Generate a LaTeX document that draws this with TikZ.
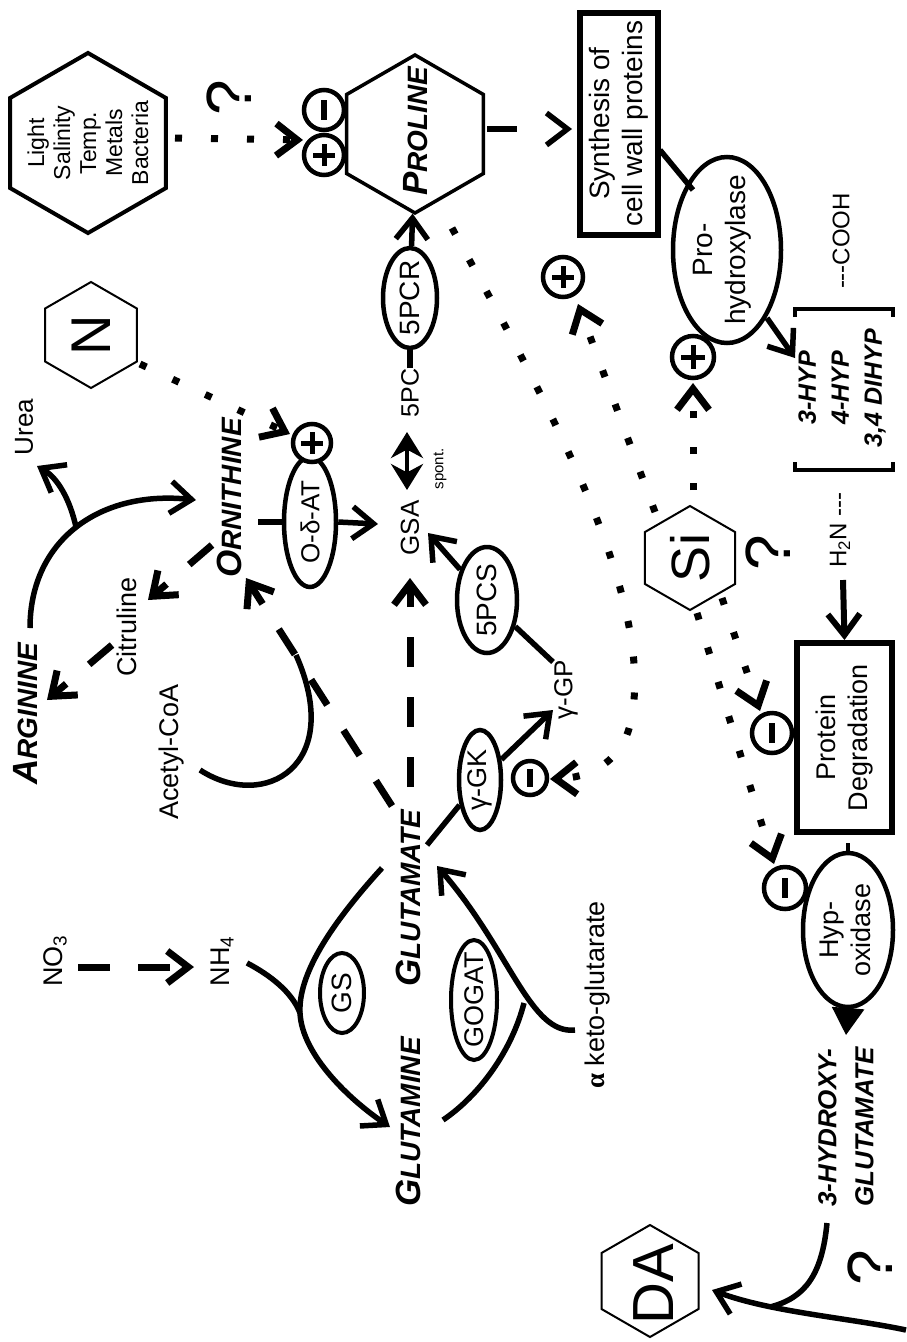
\documentclass[tikz,border=0pt]{standalone}
\usepackage{fontspec}
\setmainfont{Liberation Sans}
\newfontfamily\serifbf{Liberation Serif}
\usetikzlibrary{arrows.meta,shapes.geometric}
\newcommand\bigini[1]{{\fontsize{35}{35}\selectfont #1}}
\newcommand\fsz[1]{\fontsize{#1}{#1}\selectfont}
\newcommand\plusat[2]{\draw[line width=5pt] (#1) ++(-#2,0) -- ++(2*#2,0) (#1) ++(0,-#2) -- ++(0,2*#2);}
\newcommand\minusat[2]{\draw[line width=6pt] (#1) ++(0,-#2) -- ++(0,2*#2);}
\begin{document}
\begin{tikzpicture}[x=1pt,y=-1pt,
  lbl/.style={rotate=90,inner sep=0pt,align=center,font=\fontsize{27}{31}\selectfont},
  bil/.style={rotate=90,inner sep=0pt,align=center,font=\bfseries\itshape\fontsize{28}{32}\selectfont},
  enz/.style={draw,ellipse,rotate=90,inner sep=0pt,line width=4.5pt},
  hexa/.style={draw,regular polygon,regular polygon sides=6,rotate=90,inner sep=0pt},
  sgn/.style={draw,circle,fill=white,inner sep=0pt,line width=4.5pt},
  rbox/.style={draw,rectangle,rotate=90,inner sep=0pt,line width=6pt,align=center,font=\fontsize{28}{33}\selectfont},
  rxn/.style={line width=5.5pt},
  arw/.style={-{Straight Barb[length=21pt,width=32pt]}},
  dsh/.style={line width=7pt,dash pattern=on 30pt off 30pt},
  dtt/.style={line width=7pt,dash pattern=on 7pt off 29pt},
  qm/.style={rotate=90,inner sep=0pt,font=\fontsize{64}{64}\selectfont}
]
\fill[white] (0,0) rectangle (906,1342);
\useasboundingbox (0,0) rectangle (906,1342);

% ---------- hexagons ----------
\node[hexa,line width=4pt,minimum size=180pt] (envHex) at (88,143) {};
\node[lbl,font=\fontsize{23}{26}\selectfont] (envTxt) at (envHex.center) {Light\\Salinity\\Temp.\\Metals\\Bacteria};
\node[hexa,line width=2pt,minimum size=106pt] (nHex) at (91,335) {};
\node[lbl,font=\fsz{56}] (nTxt) at (nHex.center) {N};
\node[hexa,line width=3.5pt,minimum size=158pt] (proHex) at (415,134) {};
\node[bil] (proTxt) at (416,131) {\bigini{P}ROLINE};
\node[hexa,line width=2pt,minimum size=104pt] (siHex) at (690,558) {};
\node[lbl,font=\fsz{54}] (siTxt) at (siHex.center) {Si};
\node[hexa,line width=2pt,minimum size=112pt] (daHex) at (650,1281) {};
\node[lbl,font=\fsz{58}] (daTxt) at (654,1284) {DA};

% ---------- question marks ----------
\node[qm] (q1) at (229,98) {?};
\node[qm] (q2) at (768,553) {?};
\node[qm] (q3) at (870,1268) {?};

% ---------- labels ----------
\node[lbl,font=\fsz{26}] (urea) at (24,427) {Urea};
\node[bil] (argT) at (26,714) {\bigini{A}RGININE};
\node[lbl] (citT) at (127,627) {Citruline};
\node[lbl] (acetT) at (172,752) {Acetyl-CoA};
\node[bil] (ornT) at (229,498) {\bigini{O}RNITHINE};
\node[lbl] (no3T) at (55,961) {NO\textsubscript{3}};
\node[lbl] (nh4T) at (222,961) {NH\textsubscript{4}};
\node[bil] (gluT) at (408,898) {\bigini{G}LUTAMATE};
\node[bil] (glnT) at (408,1122) {\bigini{G}LUTAMINE};
\node[lbl] (akgT) at (598,995) {{\serifbf\bfseries α} keto-glutarate};
\node[lbl,font=\fsz{26}] (gsaT) at (410,528) {GSA};
\node[lbl,font=\fsz{15}] (spontT) at (440,469) {spont.};
\node[lbl,font=\fsz{25}] (pcT) at (410,393) {5PC};
\node[lbl,font=\fsz{26}] (gpT) at (566,690) {γ-GP};

% ---------- enzymes ----------
\node[enz,minimum width=130pt,minimum height=52pt] (oda) at (310,522) {};
\node[lbl,font=\fsz{26}] (odaT) at (oda.center) {O-δ-AT};
\node[enz,minimum width=100pt,minimum height=42pt] (gk) at (480,780) {};
\node[lbl,font=\fsz{27}] (gkT) at (gk.center) {γ-GK};
\node[enz,minimum width=106pt,minimum height=60pt] (pcs) at (487,600) {};
\node[lbl,font=\fsz{28}] (pcsT) at (pcs.center) {5PCS};
\node[enz,minimum width=100pt,minimum height=54pt] (pcr) at (410,298) {};
\node[lbl,font=\fsz{28}] (pcrT) at (pcr.center) {5PCR};
\node[enz,line width=4pt,minimum width=80pt,minimum height=44pt] (gs) at (342,993) {};
\node[lbl,font=\fsz{28}] (gsT) at (gs.center) {GS};
\node[enz,line width=4pt,minimum width=120pt,minimum height=46pt] (gogat) at (474,1000) {};
\node[lbl,font=\fsz{27}] (gogatT) at (gogat.center) {GOGAT};
\node[enz,minimum width=186pt,minimum height=108pt] (prohyd) at (727,250) {};
\node[lbl,font=\fontsize{28}{33}\selectfont] (prohydT) at (722,250) {Pro-\\hydroxylase};
\node[enz,minimum width=154pt,minimum height=90pt] (hypox) at (848,930) {};
\node[lbl,font=\fontsize{27}{32}\selectfont] (hypoxT) at (845,930) {Hyp-\\oxidase};

% ---------- boxes ----------
\node[rbox,minimum width=222pt,minimum height=78pt] (synBox) at (618.5,123.5) {Synthesis of\\cell wall proteins};
\node[rbox,minimum width=189pt,minimum height=95pt,font=\fontsize{27}{32}\selectfont] (pdBox) at (844.5,737.5) {Protein\\Degradation};

% ---------- peptide ----------
\node[bil,font=\bfseries\itshape\fontsize{25}{33}\selectfont] (chemT) at (842,388) {3-HYP\\4-HYP\\3,4 DIHYP};
\node[lbl,font=\fsz{24}] (h2nT) at (840,530) {H\textsubscript{2}N -{}-{}-};
\node[lbl,font=\fsz{24}] (coohT) at (841,241) {-{}-{}-COOH};
\draw[line width=4pt] (795,462) -- (795,470) -- (893,470) -- (893,462);
\draw[line width=4pt] (795,317) -- (795,309) -- (893,309) -- (893,317);
\node[bil,font=\bfseries\itshape\fontsize{26}{37}\selectfont,align=left,anchor=west] (hgT) at (846,1207) {3-HYDROXY-\\GLUTAMATE};

% ---------- +/- modifiers ----------
\node[sgn,minimum size=40pt] (pEnvM) at (324,110) {}; \minusat{pEnvM}{10}
\node[sgn,minimum size=40pt] (pEnvP) at (324,155) {}; \plusat{pEnvP}{11}
\node[sgn,minimum size=38pt] (pOrn) at (312,443) {}; \plusat{pOrn}{11}
\node[sgn,minimum size=40pt] (pSyn) at (563,277) {}; \plusat{pSyn}{11}
\node[sgn,minimum size=42pt] (pHyd) at (693,357) {}; \plusat{pHyd}{12}
\node[sgn,minimum size=34pt] (mGK) at (530,778) {}; \minusat{mGK}{9}
\node[sgn,minimum size=40pt] (mPD) at (772,733) {}; \minusat{mPD}{10}
\node[sgn,minimum size=42pt] (mHx) at (785,888) {}; \minusat{mHx}{10}

% ---------- reactions ----------
% arginine / ornithine / urea
\draw[rxn,arw] (30,628) .. controls (30,540) and (100,490) .. (196,500);
\draw[rxn,arw] (76,527) .. controls (70,500) and (58,478) .. (37,466);
\draw[dsh,arw] (212,545) -- (148,600);
\draw[dsh,arw] (112,645) -- (47,700);
\draw[dsh,arw] (392,806) -- (246,578);
\draw[rxn] (200,770) .. controls (265,812) and (345,765) .. (296,655);
% ornithine -> O-d-AT -> GSA
\draw[rxn] (258,522) -- (oda.north);
\draw[rxn,arw] (oda.south) -- (378,524);
% nitrate
\draw[rxn,arw,line width=7pt,dash pattern=on 32pt off 28pt] (78,967) -- (194,967);
% GS
\draw[rxn,arw] (382,868) .. controls (330,925) and (298,975) .. (300,1013) .. controls (302,1055) and (350,1100) .. (390,1127);
\draw[rxn] (247,963) .. controls (270,975) and (292,992) .. (300,1013);
% GOGAT
\draw[rxn,arw] (575,1030) .. controls (530,1035) and (510,950) .. (437,866);
\draw[rxn] (443,1120) .. controls (480,1095) and (512,1050) .. (524,1003);
% glutamate -> gamma-GK -> gamma-GP -> 5PCS -> GSA
\draw[rxn] (427,845) -- (gk);
\draw[rxn,arw] (gk) -- (553,710);
\draw[rxn] (553,662) -- (pcs);
\draw[rxn,arw] (pcs) -- (428,533);
\draw[dsh,arw] (410,787) -- (410,578);
% GSA <-> 5PC -> 5PCR -> proline
\draw[line width=4pt,{Stealth[length=26pt,width=32pt]}-{Stealth[length=26pt,width=32pt]}] (407,490) -- (407,432);
\draw[rxn] (pcT) -- (pcr);
\draw[rxn,arw] (pcr) -- (proHex);
% proline -> synthesis -> prohydroxylase -> HYP
\draw[rxn,arw,dash pattern=on 30pt off 200pt] (487,129) -- (572,129);
\draw[rxn] (660,150) -- (693,190);
\draw[rxn,arw] (767,318) -- (795,358);
% peptide -> protein degradation -> hyp-oxidase -> 3-hydroxyglutamate -> DA
\draw[line width=6pt,arw] (843,580) -- (pdBox.east);
\draw[line width=4pt] (hypox.east) -- ++(0,-8);
\draw[line width=3pt,-{Triangle[length=27pt,width=32pt]}] (hypox.west) -- (846,1035);
\draw[rxn,arw] (906,1330) .. controls (850,1318) and (770,1312) .. (712,1290);
\draw[rxn] (827,1223) .. controls (822,1275) and (805,1298) .. (770,1307);

% ---------- dotted regulations ----------
\draw[dtt,arw] (175,138) -- (303,140);
\draw[dtt,arw] (140,364) -- (290,434);
\draw[dtt,arw] (452,228) .. controls (540,390) and (660,600) .. (630,725) .. controls (620,765) and (585,778) .. (550,779);
\draw[dtt,arw] (655,512) -- (578,304);
\draw[dtt,arw] (693,490) -- (693,383);
\draw[dtt,arw] (722,598) -- (760,711);
\draw[dtt,arw] (697,613) -- (774,864);
\end{tikzpicture}
\end{document}
